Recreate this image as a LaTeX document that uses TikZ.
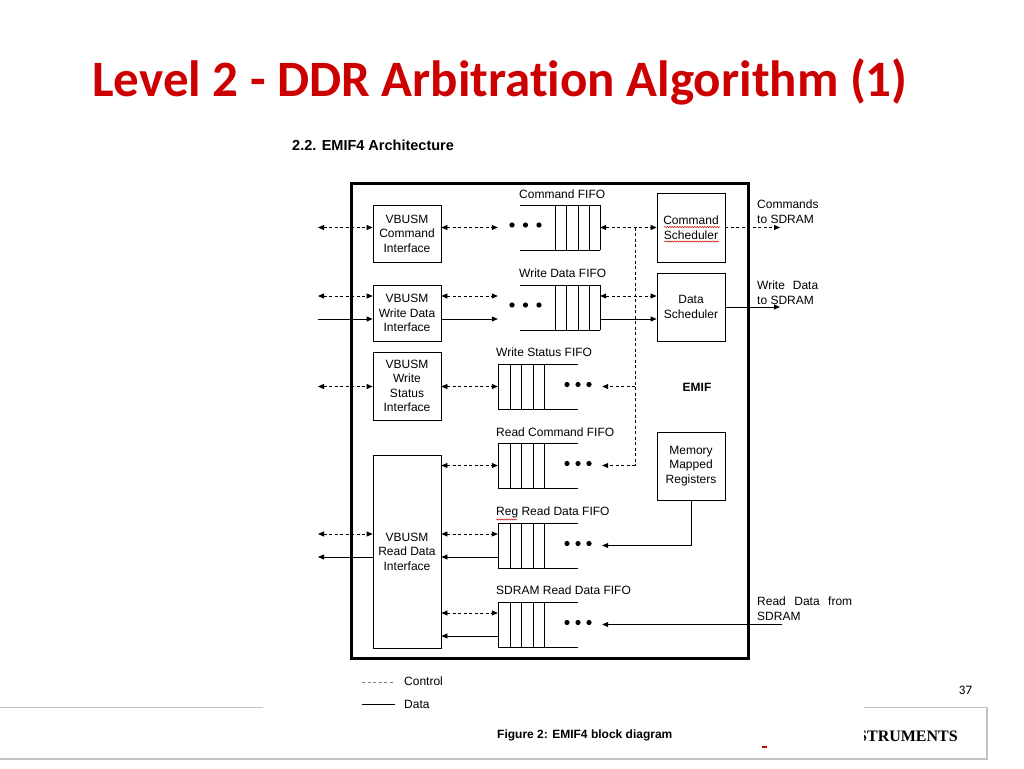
\documentclass[tikz,border=0pt]{standalone}
\usepackage{fontspec}
\setmainfont{Liberation Sans}
\newfontfamily\titlefont[RawFeature={-liga;-clig;-calt;-dlig}]{Carlito}
\newfontfamily\tifont{Liberation Serif}
\usetikzlibrary{arrows.meta,decorations.pathmorphing}
\definecolor{tired}{RGB}{204,0,0}
\definecolor{footgray}{RGB}{195,195,195}
\begin{document}
\begin{tikzpicture}[x=1pt,y=-1pt,
  >={Triangle[length=6pt,width=5pt]},
  lbl/.style={font=\fontsize{12}{15}\selectfont, inner sep=0pt},
  box/.style={draw, line width=0.8pt, align=center, inner sep=0pt, font=\fontsize{12}{14.5}\selectfont},
  qnode/.style={inner sep=0pt, minimum height=45pt},
  ctl/.style={line width=0.8pt, dash pattern=on 3pt off 2.5pt},
  dat/.style={line width=0.8pt},
  squig/.style={red!80!black, line width=0.5pt, decorate, decoration={snake, segment length=2.5pt, amplitude=0.6pt}},
  fifoR/.pic={
    \draw[line width=0.8pt] (22,-22.5) -- (102,-22.5) (22,22.5) -- (102,22.5);
    \foreach \x in {57,68.5,80,91,102} \draw[line width=0.8pt] (\x,-22.5) -- (\x,22.5);
    \foreach \x in {14,27.5,41} \fill (\x,-2.5) circle (2.6pt);
  },
  fifoL/.pic={
    \draw[line width=0.8pt] (0,-22.5) -- (80,-22.5) (0,22.5) -- (80,22.5);
    \foreach \x in {0,12,23,35,46} \draw[line width=0.8pt] (\x,-22.5) -- (\x,22.5);
    \foreach \x in {69,80,91} \fill (\x,-2) circle (2.6pt);
  }
]
\useasboundingbox (0,0) rectangle (1024,768);

% ---------- slide footer ----------
\draw[footgray, line width=1.2pt] (0,707.5) -- (987,707.5) -- (987,759) -- (0,759);
\node[anchor=base east, inner sep=0pt, font=\tifont\bfseries\fontsize{16}{18}\selectfont] (ti) at (958,741) {TEXAS INSTRUMENTS};
\fill[tired] (762,746) rectangle (767,748);
\node[anchor=base, inner sep=0pt, font=\titlefont\fontsize{13}{15}\selectfont] (pg) at (965.5,694) {37};

% ---------- slide title ----------
\node[anchor=base, inner sep=0pt, text=tired, font=\titlefont\bfseries\fontsize{51}{60}\selectfont] (title) at (500,96) {Level 2 - DDR Arbitration Algorithm (1)};

% ---------- embedded figure ----------
\fill[white] (263,125) rectangle (864,744);

\node[anchor=base west, inner sep=0pt, font=\bfseries\fontsize{14.5}{17}\selectfont] (sub) at (292,150) {2.2. EMIF4 Architecture};

\node[draw, line width=3pt, minimum width=397pt, minimum height=475pt, inner sep=0pt] (emif) at (549.5,420.5) {};
\node[inner sep=0pt, font=\bfseries\fontsize{12}{14}\selectfont] (emiflbl) at (697,387) {EMIF};

% interface boxes
\node[box, minimum width=68pt, minimum height=57pt] (cmdif) at (407,233.5) {VBUSM\\Command\\Interface};
\node[box, minimum width=68pt, minimum height=56pt] (wdif) at (407,313) {VBUSM\\Write Data\\Interface};
\node[box, minimum width=68pt, minimum height=68pt] (wsif) at (407,386) {VBUSM\\Write\\Status\\Interface};
\node[box, minimum width=68pt, minimum height=193pt] (rdif) at (407,551.5) {VBUSM\\Read Data\\Interface};

% scheduler boxes
\node[box, minimum width=68pt, minimum height=69pt] (cmdsch) at (691,227.5) {Command\\Scheduler};
\node[box, minimum width=68pt, minimum height=68pt] (datsch) at (691,307) {Data\\Scheduler};
\node[box, minimum width=68pt, minimum height=68pt] (mmr) at (691,466) {Memory\\Mapped\\Registers};

% FIFOs
\node[qnode, minimum width=102pt] (q1) at (549,227.5) {};
\pic at (498,227.5) {fifoR};
\node[qnode, minimum width=102pt] (q2) at (549,307.5) {};
\pic at (498,307.5) {fifoR};
\node[qnode, minimum width=104pt] (q3) at (550,386.5) {};
\pic at (498,386.5) {fifoL};
\node[qnode, minimum width=104pt] (q4) at (550,465.5) {};
\pic at (498,465.5) {fifoL};
\node[qnode, minimum width=104pt] (q5) at (550,545.5) {};
\pic at (498,545.5) {fifoL};
\node[qnode, minimum width=104pt] (q6) at (550,624.5) {};
\pic at (498,624.5) {fifoL};

% FIFO labels
\node[lbl, anchor=base west] (lq1) at (519,198) {Command FIFO};
\node[lbl, anchor=base west] (lq2) at (519,277) {Write Data FIFO};
\node[lbl, anchor=base west] (lq3) at (496,356) {Write Status FIFO};
\node[lbl, anchor=base west] (lq4) at (496,436) {Read Command FIFO};
\node[lbl, anchor=base west] (lq5) at (496,515) {Reg Read Data FIFO};
\node[lbl, anchor=base west] (lq6) at (496,594) {SDRAM Read Data FIFO};

% spell-check squiggles
\draw[squig] (664,227) -- (720,227);
\draw[squig] (664,241.5) -- (719,241.5);
\draw[squig] (496,519.5) -- (517,519.5);

% right side texts
\node[lbl, anchor=west, align=left] (t1) at (757,211.5) {Commands\\to SDRAM};
\node[lbl, anchor=west, align=left] (t2) at (757,292.5) {\makebox[61pt][s]{Write Data}\\to SDRAM};
\node[lbl, anchor=west, align=left] (t3) at (757,609) {\makebox[95pt][s]{Read Data from}\\SDRAM};

% free ends
\coordinate (L1) at (318,227.5);
\coordinate (L2a) at (318,296);
\coordinate (L2b) at (318,319);
\coordinate (L3) at (318,386.5);
\coordinate (L5a) at (318,534);
\coordinate (L5b) at (318,557);
\coordinate (C1) at (780,227.5);
\coordinate (C2) at (780,307);
\coordinate (R6) at (782,624.5);
\coordinate (v) at (635,0);

% command path
\draw[ctl,<->] (L1) -- (cmdif.west |- q1);
\draw[ctl,<->] (cmdif.east |- q1) -- (q1.west);
\draw[ctl,<->] (q1.east) -- (cmdsch.west);
\draw[ctl,->] (cmdsch.east) -- (C1);

% write data path
\draw[ctl,<->] (L2a) -- (wdif.west |- L2a);
\draw[dat,->] (L2b) -- (wdif.west |- L2b);
\draw[ctl,<->] (wdif.east |- L2a) -- (q2.west |- L2a);
\draw[dat,->] (wdif.east |- L2b) -- (q2.west |- L2b);
\draw[ctl,<->] (q2.east |- L2a) -- (datsch.west |- L2a);
\draw[dat,->] (q2.east |- L2b) -- (datsch.west |- L2b);
\draw[dat,->] (datsch.east) -- (C2);

% write status / read command
\draw[ctl,<->] (L3) -- (wsif.west |- L3);
\draw[ctl,<->] (wsif.east |- L3) -- (q3.west);
\draw[ctl,<->] (rdif.east |- q4) -- (q4.west);
\draw[ctl] (v |- q1) -- (v |- q4);
\draw[ctl,->] (v |- q3) -- (q3.east);
\draw[ctl,->] (v |- q4) -- (q4.east);

% reg read data
\draw[ctl,<->] (L5a) -- (rdif.west |- L5a);
\draw[dat,<-] (L5b) -- (rdif.west |- L5b);
\draw[ctl,<->] (rdif.east |- L5a) -- (q5.west |- L5a);
\draw[dat,<-] (rdif.east |- L5b) -- (q5.west |- L5b);
\draw[dat,->] (mmr.south) |- (q5.east);

% sdram read data
\draw[ctl,<->] ([yshift=11.5pt]q6.west -| rdif.east) -- ([yshift=11.5pt]q6.west);
\draw[dat,<-] ([yshift=-11.5pt]q6.west -| rdif.east) -- ([yshift=-11.5pt]q6.west);
\draw[dat,->] (R6) -- (q6.east);

% legend
\coordinate (lg1) at (362,682);
\coordinate (lg2) at (362,704);
\draw[ctl, gray] (lg1) -- ++(33,0);
\draw[dat] (lg2) -- ++(33,0);
\node[lbl, anchor=base west] (lc) at (404,685.5) {Control};
\node[lbl, anchor=base west] (ld) at (404,708) {Data};

% caption
\node[anchor=base west, inner sep=0pt, font=\bfseries\fontsize{12}{14}\selectfont] (cap) at (497,738) {Figure 2: EMIF4 block diagram};
\end{tikzpicture}
\end{document}
